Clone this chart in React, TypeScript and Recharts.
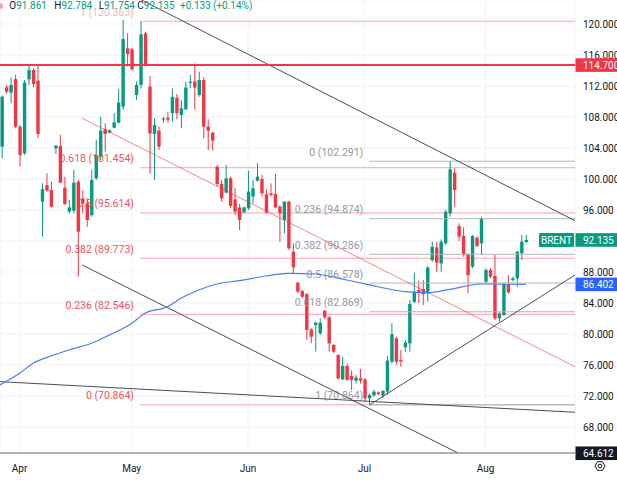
import React from 'react';
import { ComposedChart, Bar, Line, XAxis, YAxis, CartesianGrid, ReferenceLine } from 'recharts';

// ---- candle data (daily bars, index 0 = first visible bar) ----
const opens = [
  104.17, 111.83, 111.14, 112.9, 106.75, 103.31, 112.86, 114.06, 112.69, 97.08,
  99.23, 98.58, 103.96, 104.26, 98.88, 95.79, 95.91, 99.66, 97.5, 96.86,
  95.35, 100.09, 102.88, 106.41, 105.98, 106.62, 107.27, 109.33, 116.86, 116.73,
  110.84, 112.13, 118.8, 111.91, 105.81, 106.24, 107.74, 107.9, 108.5, 110.5,
  108.26, 109.0, 112.4, 112.6, 110.84, 112.77, 106.75, 105.97, 101.59, 99.35,
  98.24, 100.09, 97.37, 96.34, 95.7, 96.22, 97.72, 99.78, 100.0, 98.02,
  98.15, 98.06, 96.43, 94.71, 97.08, 90.62, 86.62, 85.55, 85.16, 80.6,
  81.16, 80.1, 83.0, 82.15, 78.58, 77.29, 74.15, 75.87, 74.58, 73.98,
  74.28, 74.15, 71.7, 72.08, 72.47, 72.04, 72.56, 76.43, 79.44, 76.65,
  78.28, 78.79, 84.17, 85.7, 85.81, 85.25, 89.54, 91.18, 89.11, 91.7,
  95.57, 100.81, 93.93, 92.64, 90.32, 88.69, 92.43, 91.7, 86.75, 88.26,
  87.48, 82.02, 82.45, 86.41, 86.97, 87.18, 90.41, 91.861,
];
const highs = [
  110.8, 112.13, 113.12, 113.42, 106.97, 112.77, 114.58, 114.28, 114.58, 99.44,
  100.73, 99.66, 104.39, 105.68, 100.3, 97.29, 101.16, 99.87, 98.58, 97.5,
  101.16, 105.03, 108.04, 107.18, 106.4, 108.47, 111.57, 120.52, 118.8, 116.9,
  112.56, 120.3, 119.0, 113.29, 107.83, 106.75, 108.04, 108.7, 111.7, 111.0,
  110.19, 112.56, 113.42, 114.92, 113.85, 113.12, 107.7, 106.11, 101.81, 99.87,
  101.81, 100.3, 98.8, 96.77, 96.43, 101.08, 99.87, 102.02, 100.52, 98.67,
  99.44, 100.65, 96.6, 97.08, 97.2, 91.7, 86.75, 85.7, 85.25, 80.73,
  81.6, 82.02, 83.1, 82.3, 78.7, 77.4, 77.07, 76.21, 75.3, 74.7,
  75.5, 74.3, 72.3, 72.8, 72.6, 72.8, 77.16, 81.37, 79.65, 77.93,
  79.23, 84.39, 87.91, 86.9, 86.97, 88.78, 91.91, 91.91, 92.21, 96.0,
  102.36, 101.37, 94.28, 93.76, 90.41, 92.77, 92.6, 95.14, 88.47, 88.5,
  90.19, 82.8, 86.62, 87.61, 87.4, 90.75, 92.77, 92.784,
];
const lows = [
  102.67, 111.0, 109.76, 106.54, 101.6, 103.1, 112.13, 111.83, 105.25, 92.56,
  98.37, 96.3, 103.23, 99.44, 96.65, 95.57, 95.57, 87.4, 95.57, 93.85,
  95.14, 99.87, 102.45, 103.53, 105.9, 106.54, 107.18, 108.9, 114.5, 113.98,
  110.19, 111.7, 114.5, 100.73, 99.87, 103.74, 107.27, 107.3, 107.4, 107.7,
  106.54, 108.9, 111.7, 108.99, 110.62, 105.25, 103.74, 103.65, 99.01, 97.08,
  98.15, 96.22, 95.35, 93.42, 95.57, 96.0, 96.86, 99.66, 97.72, 95.57,
  97.72, 96.22, 91.91, 92.99, 90.84, 87.83, 85.25, 84.6, 79.23, 78.8,
  77.72, 79.87, 81.9, 77.72, 77.5, 74.07, 74.07, 73.98, 72.77, 73.6,
  73.6, 71.2, 70.86, 71.9, 72.1, 71.7, 72.13, 76.21, 76.0, 75.78,
  77.72, 77.72, 83.96, 84.0, 83.74, 84.17, 89.3, 88.04, 88.04, 91.48,
  95.14, 96.43, 92.0, 89.97, 85.25, 88.5, 91.2, 90.19, 86.45, 87.2,
  81.8, 81.6, 82.3, 85.2, 86.8, 86.11, 89.54, 91.754,
];
const closes = [
  110.62, 111.27, 112.13, 106.75, 103.1, 112.43, 114.06, 112.26, 105.81, 98.67,
  98.5, 96.43, 104.3, 99.53, 96.77, 96.34, 99.53, 93.2, 96.86, 94.71,
  99.87, 103.1, 106.24, 105.81, 106.28, 107.31, 109.85, 118.06, 116.13, 114.15,
  112.13, 118.67, 114.71, 105.89, 106.97, 104.17, 107.8, 107.65, 110.6, 108.5,
  109.12, 111.8, 112.56, 111.8, 112.77, 106.75, 106.24, 104.94, 99.35, 97.5,
  100.09, 96.52, 95.79, 94.71, 96.34, 98.37, 98.8, 100.3, 98.15, 95.66,
  97.94, 96.34, 95.57, 97.08, 91.05, 88.6, 85.46, 84.82, 80.52, 79.65,
  81.46, 81.46, 82.15, 78.79, 77.72, 74.28, 75.87, 74.07, 74.07, 74.37,
  73.98, 71.7, 72.13, 72.56, 72.26, 72.64, 76.56, 79.99, 76.43, 76.47,
  78.88, 83.87, 85.46, 85.3, 85.16, 88.56, 91.26, 89.2, 91.91, 95.78,
  101.25, 98.58, 92.56, 90.19, 87.61, 92.64, 91.35, 94.92, 88.26, 87.4,
  82.02, 82.66, 86.45, 85.38, 87.18, 90.62, 91.91, 92.135,
];

// ---- moving average (read at selected bars) ----
const maIndex = [-1, 0, 4, 7, 11, 15, 20, 24, 29, 32, 37, 40, 44, 48, 53, 59, 64, 70, 77, 84, 90, 95, 100, 107, 117];
const maValue = [73.2, 73.55, 74.93, 76.22, 77.16, 77.94, 78.8, 79.87, 81.37, 82.67, 83.52, 84.6, 85.68, 86.45, 86.88, 87.48, 87.83, 87.74, 86.97, 86.1, 85.46, 85.33, 85.76, 86.45, 86.4];

// ---- axes ----
const monthTicks = [4, 29, 55, 81, 108];
const monthLabels = ['Apr', 'May', 'Jun', 'Jul', 'Aug'];
const priceTicks = [68, 72, 76, 80, 84, 88, 92, 96, 100, 104, 108, 112, 116, 120];
const hiddenPriceTicks = [92];
const xDomain = [-0.38, 127.97];
const yDomain = [64.645, 123.097];

// ---- fibonacci retracements ----
const redFibRatios = ['1', '0.618', '0.5', '0.382', '0.236', '0'];
const redFibLevels = [120.363, 101.454, 95.614, 89.773, 82.546, 70.864];
const redFibFrom = 30.87;
const grayFibRatios = ['0', '0.236', '0.382', '0.5', '0.618', '1'];
const grayFibLevels = [102.291, 94.874, 90.286, 86.578, 82.869, 70.864];
const grayFibFrom = 82.05;

// ---- trend lines [x1, y1, x2, y2] ----
const darkTrendLines = [
  [31.2, 123.1, 127.97, 94.62],
  [17.99, 88.9, 101.85, 64.65],
  [-0.38, 73.85, 127.97, 69.9],
  [82.05, 70.84, 127.97, 87.61],
];
const redTrendLines = [[17.99, 107.83, 127.97, 75.78]];

// ---- price labels ----
const resistanceLevel = 114.7;
const lastPrice = 92.135;
const maLast = 86.402;
const bottomPrice = 64.612;
const symbolName = 'BRENT';

const header = [
  { label: 'O', value: '91.861' },
  { label: 'H', value: '92.784' },
  { label: 'L', value: '91.754' },
  { label: 'C', value: '92.135' },
  { label: '', value: '+0.133' },
  { label: '', value: '(+0.14%)' },
];
const headerX = [9.3, 54.3, 98.7, 137.3, 180, 213];

const GREEN = '#089981';
const RED = '#f23645';
const DARK = '#131722';
const FONT = 'Roboto, "Liberation Sans", sans-serif';

const candles = opens.map((o, i) => ({
  i,
  o,
  h: highs[i],
  l: lows[i],
  c: closes[i],
  range: [lows[i], highs[i]],
}));
const maData = maIndex.map((i, k) => ({ i, v: maValue[k] }));

const Candle = (props: any) => {
  const { x, y, width, height, payload } = props;
  if (!payload || height == null) return null;
  const { o, h, l, c } = payload;
  const k = height / (h - l);
  const yOf = (p: number) => y + (h - p) * k;
  const cx = x + width / 2;
  const up = c >= o;
  const color = up ? GREEN : RED;
  const top = yOf(Math.max(o, c));
  const bot = yOf(Math.min(o, c));
  return (
    <g>
      <line x1={cx} x2={cx} y1={y} y2={y + height} stroke={color} strokeWidth={1} />
      <rect x={cx - 1.7} y={top} width={3.4} height={Math.max(bot - top, 1)} fill={color} />
    </g>
  );
};

const fibLabel = (text: string, color: string, opacity = 1) => (props: any) => {
  const vb = props.viewBox || {};
  return (
    <text x={vb.x - 6} y={vb.y - 5.5} textAnchor="end" fill={color} fillOpacity={opacity} fontSize={10.5} fontFamily={FONT}>
      {text}
    </text>
  );
};

const badge = (text: string, bg: string, extra?: string) => (props: any) => {
  const vb = props.viewBox || {};
  const cy = vb.y;
  return (
    <g>
      {extra ? (
        <g>
          <rect x={539} y={cy - 7} width={35} height={14} fill={bg} rx={1} />
          <text x={556.5} y={cy + 3.6} textAnchor="middle" fill="#fff" fontSize={10} fontFamily={FONT}>{extra}</text>
        </g>
      ) : null}
      <rect x={575.5} y={cy - 6.8} width={42} height={13.6} fill={bg} />
      <text x={583} y={cy + 3.6} fill="#fff" fontSize={10} fontFamily={FONT}>{text}</text>
    </g>
  );
};

const XTick = (props: any) => {
  const { x, y, payload } = props;
  const idx = monthTicks.indexOf(payload.value);
  return (
    <text x={x} y={y} dy={11} textAnchor="middle" fill={DARK} fontSize={10} fontFamily={FONT}>
      {monthLabels[idx] ?? ''}
    </text>
  );
};

const YTick = (props: any) => {
  const { x, y, payload } = props;
  if (hiddenPriceTicks.includes(Number(payload.value))) return <g />;
  return (
    <text x={x} y={y} dy={3.6} textAnchor="start" fill={DARK} fontSize={10} fontFamily={FONT}>
      {Number(payload.value).toFixed(3)}
    </text>
  );
};

export default function App() {
  return (
    <div style={{ position: 'absolute', left: 0, top: 0, width: 617, height: 481, background: '#fff' }}>
      <ComposedChart width={617} height={481} data={candles} margin={{ top: 0, right: 0, bottom: 0, left: 0 }}>
        <CartesianGrid stroke="#f0f3fa" />
        <XAxis
          dataKey="i"
          type="number"
          domain={xDomain}
          allowDataOverflow
          ticks={monthTicks}
          height={28}
          tickLine={false}
          axisLine={{ stroke: '#6a6d78' }}
          tick={<XTick />}
          interval={0}
        />
        <YAxis
          orientation="right"
          type="number"
          domain={yDomain}
          allowDataOverflow
          ticks={priceTicks}
          width={42}
          tickLine={false}
          axisLine={false}
          tick={<YTick />}
          interval={0}
        />
        {redFibLevels.map((lv, k) => (
          <ReferenceLine
            key={'rf' + k}
            segment={[{ x: redFibFrom, y: lv }, { x: xDomain[1], y: lv }]}
            stroke={RED}
            strokeOpacity={0.45}
            ifOverflow="visible"
            label={fibLabel(`${redFibRatios[k]} (${lv.toFixed(3)})`, RED, k === 0 ? 0.4 : 0.9)}
          />
        ))}
        {grayFibLevels.map((lv, k) => (
          <ReferenceLine
            key={'gf' + k}
            segment={[{ x: grayFibFrom, y: lv }, { x: xDomain[1], y: lv }]}
            stroke="#b2b5be"
            ifOverflow="visible"
            label={fibLabel(`${grayFibRatios[k]} (${lv.toFixed(3)})`, '#9598a1')}
          />
        ))}
        {darkTrendLines.map((t, k) => (
          <ReferenceLine
            key={'dt' + k}
            segment={[{ x: t[0], y: t[1] }, { x: t[2], y: t[3] }]}
            stroke="#4a4d57"
            strokeWidth={1}
            ifOverflow="hidden"
          />
        ))}
        {redTrendLines.map((t, k) => (
          <ReferenceLine
            key={'rt' + k}
            segment={[{ x: t[0], y: t[1] }, { x: t[2], y: t[3] }]}
            stroke={RED}
            strokeOpacity={0.6}
            strokeWidth={1}
            ifOverflow="hidden"
          />
        ))}
        <ReferenceLine y={resistanceLevel} stroke={RED} strokeWidth={2} ifOverflow="visible" />
        <Bar dataKey="range" barSize={3.4} shape={(p: any) => <Candle {...p} />} isAnimationActive={false} />
        <Line
          data={maData}
          dataKey="v"
          type="monotone"
          stroke="#4a7cf6"
          strokeWidth={1.2}
          dot={false}
          isAnimationActive={false}
        />
        <ReferenceLine y={resistanceLevel} stroke="none" ifOverflow="visible" zIndex={2500} label={badge('114.700', RED)} />
        <ReferenceLine y={lastPrice} stroke="none" ifOverflow="visible" zIndex={2500} label={badge(lastPrice.toFixed(3), GREEN, symbolName)} />
        <ReferenceLine y={maLast} stroke="none" ifOverflow="visible" zIndex={2500} label={badge(maLast.toFixed(3), '#2962ff')} />
        <ReferenceLine y={bottomPrice} stroke="none" ifOverflow="visible" zIndex={2500} label={badge(bottomPrice.toFixed(3), DARK)} />
      </ComposedChart>
      <svg width={617} height={481} style={{ position: 'absolute', left: 0, top: 0, pointerEvents: 'none' }}>
        <circle cx={0} cy={6} r={3} fill="#f7a8ae" />
        {header.map((h, k) => (
          <text key={k} x={headerX[k]} y={9.3} fontSize={10} fontFamily={FONT}>
            {h.label ? <tspan fill={DARK}>{h.label}</tspan> : null}
            <tspan fill={GREEN}>{h.value}</tspan>
          </text>
        ))}
        <g transform="translate(600,466)" fill="none" stroke={DARK} strokeWidth={1}>
          <polygon points="5,0 2.5,4.3 -2.5,4.3 -5,0 -2.5,-4.3 2.5,-4.3" />
          <circle r={1.8} />
        </g>
      </svg>
    </div>
  );
}
